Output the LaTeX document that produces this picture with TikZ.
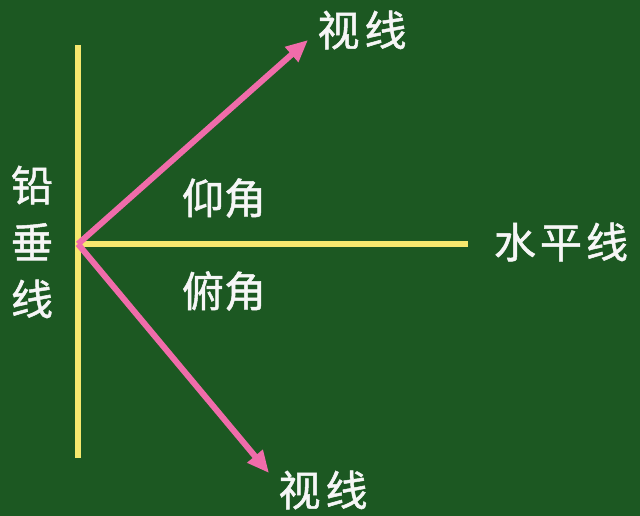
\documentclass[tikz,border=0pt]{standalone}
\usepackage{fontspec}
\newfontfamily\cjk[FakeBold=1.2]{Noto Sans CJK SC}
\usetikzlibrary{arrows.meta}
\definecolor{boardgreen}{RGB}{28,88,34}
\definecolor{chalkyellow}{RGB}{246,232,110}
\definecolor{chalkpink}{RGB}{240,108,170}
\definecolor{chalkwhite}{RGB}{246,246,246}

\begin{document}
\begin{tikzpicture}[x=1pt,y=-1pt,
		yline/.style={line width=6pt,chalkyellow},
		sight/.style={line width=6pt,chalkpink,-{Triangle[length=22pt,width=19pt]}},
		word/.style={text=chalkwhite,font=\cjk\fontsize{42}{57}\selectfont,inner sep=0pt,align=center}]
	
	%--- Bảng ---
	\fill[boardgreen] (0,0) rectangle (640,516);
	\useasboundingbox (0,0) rectangle (640,516);
	
	%--- Điểm ---
	\coordinate (O) at (78,244);
	\coordinate (vtop) at (78,45);
	\coordinate (vbot) at (78,458);
	\coordinate (hend) at (468,244);
	\coordinate (up) at (308,40);
	\coordinate (down) at (269,473);
	
	%--- Đường ---
	\draw[yline] (vtop) -- (vbot);
	\draw[yline] (O) -- (hend);
	\draw[sight] (O) -- (up);
	\draw[sight] (O) -- (down);
	
	%--- Chữ ---
	\node[word] (upword) at (362,30) {视\hspace{5pt}线};
	\node[word] (downword) at (323,490) {视\hspace{5pt}线};
	\node[word] (elev) at (224,198) {仰角};
	\node[word] (depr) at (224,291) {俯角};
	\node[word] (horiz) at (561,242) {水\hspace{4pt}平\hspace{4pt}线};
	\node[word] (plumb) at (32,242) {铅\\垂\\线};
	
\end{tikzpicture}
\end{document}
